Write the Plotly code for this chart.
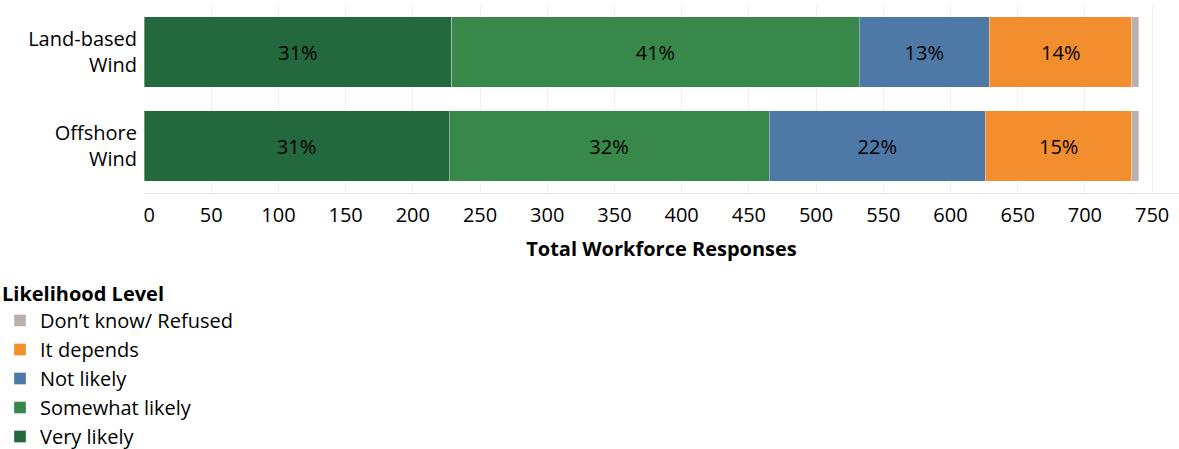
import plotly.graph_objects as go

categories = ["Land-based<br>Wind", "Offshore<br>Wind"]
levels = ["Very likely", "Somewhat likely", "Not likely", "It depends", "Don’t know/ Refused"]
very_likely = [229, 227]
somewhat_likely = [303, 238]
not_likely = [97, 161]
it_depends = [106, 109]
dont_know = [5, 5]
series = [very_likely, somewhat_likely, not_likely, it_depends, dont_know]
colors = ["#24683e", "#388849", "#4e78a6", "#f28e2e", "#bab0ac"]
x_ticks = list(range(0, 751, 50))
x_tick_text = ["\u00a0\u00a00" if v == 0 else str(v) for v in x_ticks]

totals = [sum(s[i] for s in series) for i in range(len(categories))]

FONT = "Open Sans"
FS = 20
fig = go.Figure()
for k, (name, vals, col) in enumerate(zip(levels, series, colors)):
    if name.startswith("Don"):
        txt = ["" for _ in vals]
    else:
        txt = [f"{round(v / t * 100)}%" for v, t in zip(vals, totals)]
    fig.add_trace(go.Bar(
        y=categories, x=vals, name=name, orientation="h",
        marker=dict(color=col, line=dict(color="rgba(255,255,255,0.35)", width=1)),
        text=txt, textposition="inside", insidetextanchor="middle",
        textfont=dict(family=FONT, size=FS, color="black"),
        constraintext="none", legendgroup=name, legendrank=1000 - k,
        hoverinfo="skip",
    ))

fig.update_layout(
    barmode="stack", bargap=0.25,
    width=1179, height=449,
    margin=dict(l=144, r=0, t=5, b=256, autoexpand=False),
    plot_bgcolor="white", paper_bgcolor="white",
    font=dict(family=FONT, size=FS, color="black"),
    xaxis=dict(range=[0, 770], tickvals=x_ticks, ticktext=x_tick_text,
               showgrid=True, gridcolor="#efefef",
               zeroline=False, showline=True, linecolor="#e6e6e6",
               tickfont=dict(size=FS), ticks="", ticklabelstandoff=4,
               title=dict(text="<b>Total Workforce Responses</b>", font=dict(size=FS), standoff=14)),
    yaxis=dict(autorange="reversed", showgrid=False, zeroline=False, showline=False,
               tickfont=dict(size=FS), ticks="", ticklabelstandoff=6),
    legend=dict(
        title=dict(text="<b>Likelihood Level</b>", font=dict(size=FS)),
        xref="container", yref="container", x=0, y=1 - 275 / 449,
        xanchor="left", yanchor="top", traceorder="grouped",
        tracegroupgap=0, font=dict(size=FS), bgcolor="rgba(0,0,0,0)",
    ),
    uniformtext=dict(mode=False),
)

fig.write_html("out.html", config={"displayModeBar": False},
               post_script="document.body.style.margin='0';")
